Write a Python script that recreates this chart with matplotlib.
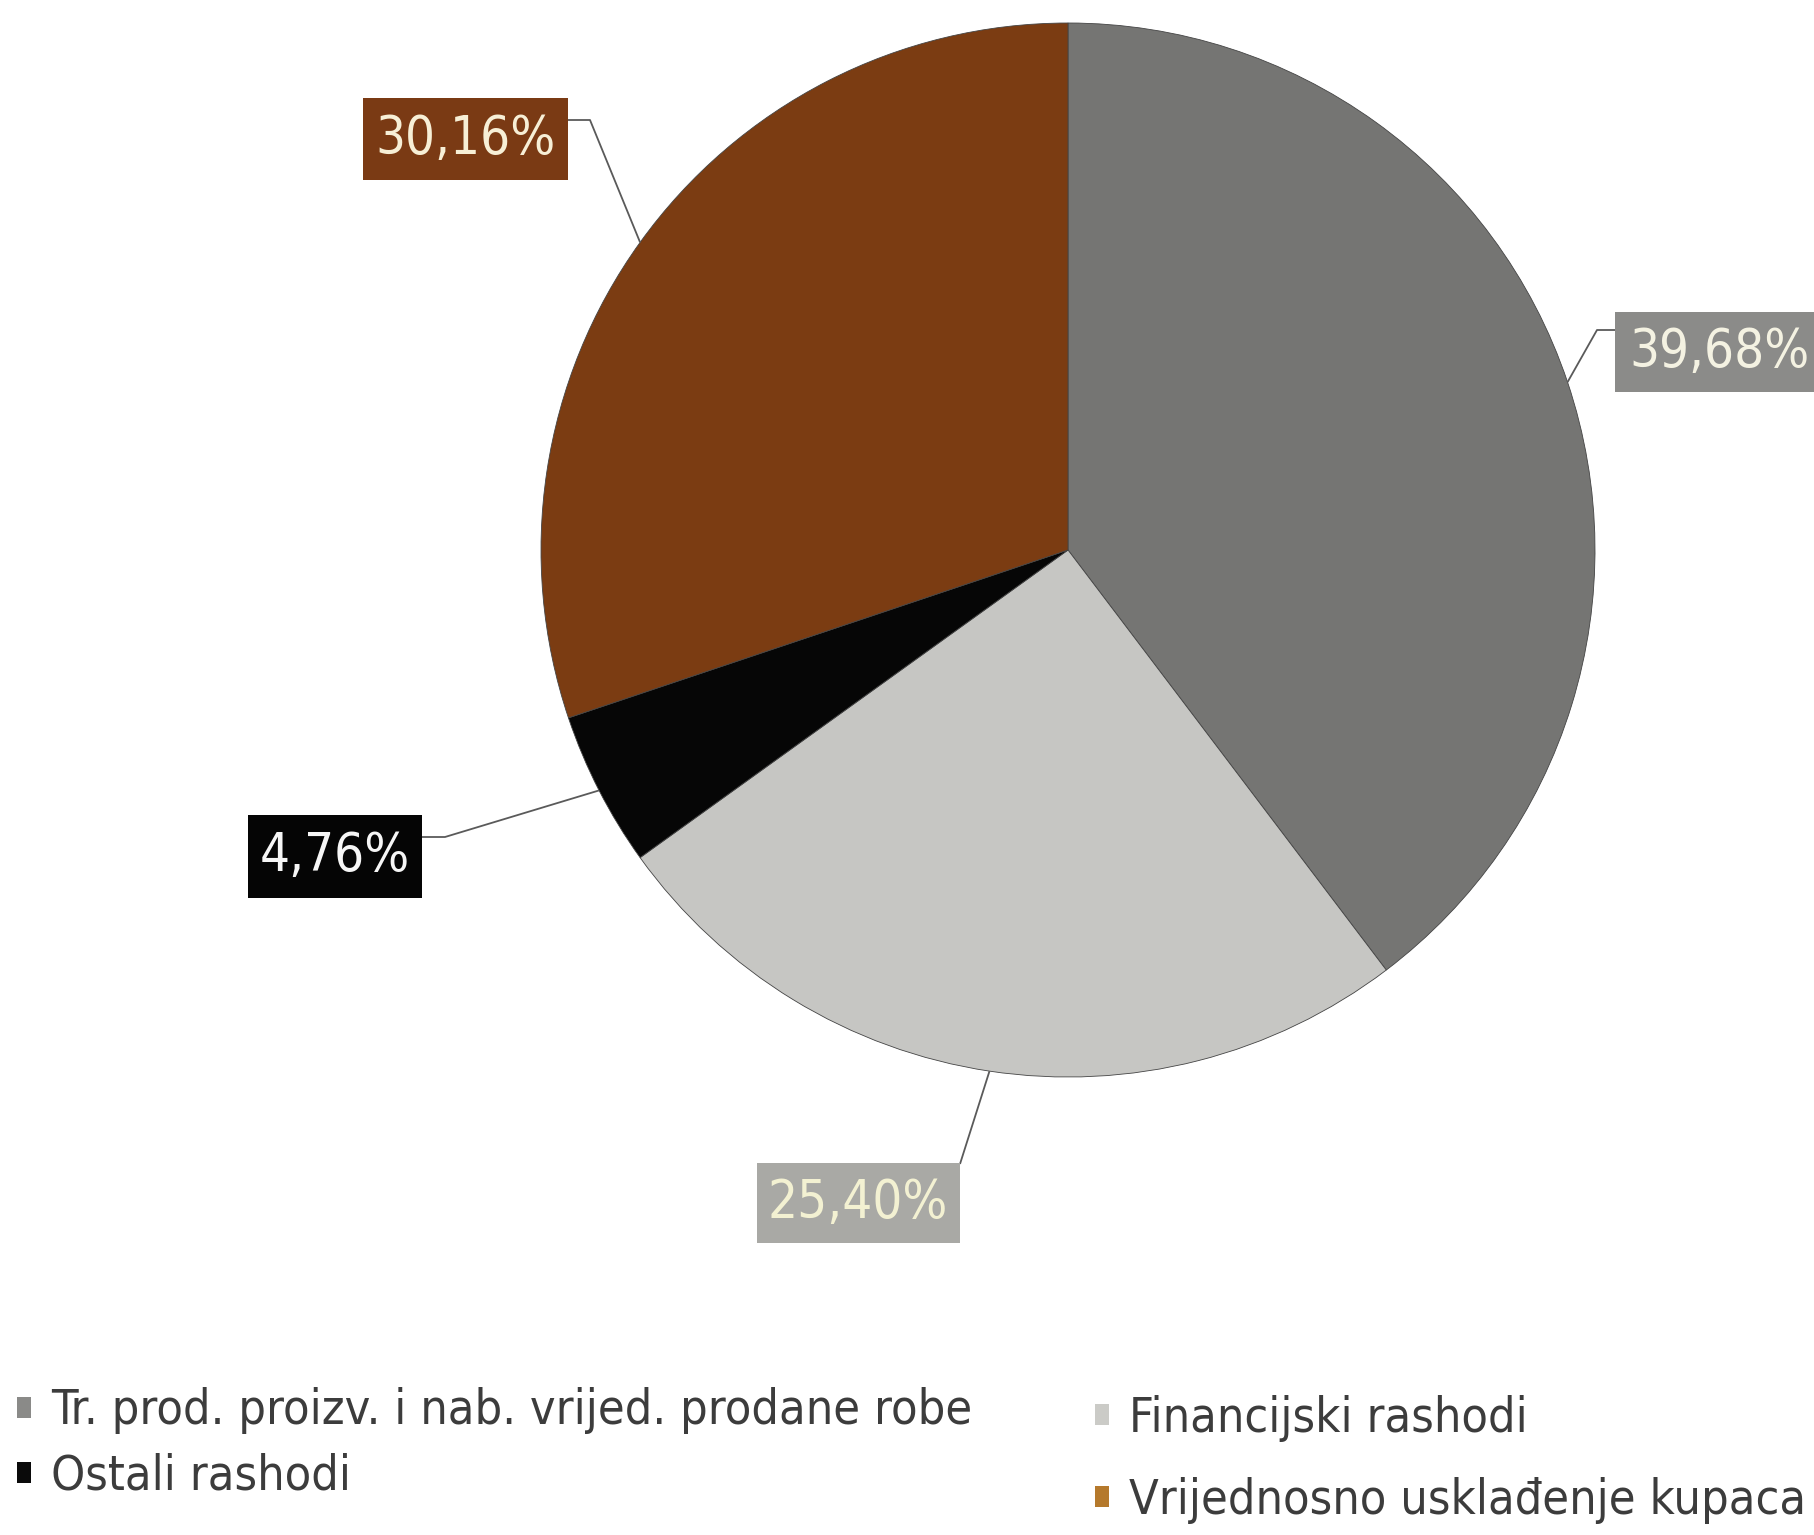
import matplotlib
matplotlib.use("Agg")
import matplotlib.pyplot as plt
from matplotlib import font_manager as fm
from matplotlib.patches import Rectangle
import numpy as np

# ---------------- data ----------------
categories = [
    "Tr. prod. proizv. i nab. vrijed. prodane robe",
    "Financijski rashodi",
    "Ostali rashodi",
    "Vrijednosno usklađenje kupaca",
]
values = [39.68, 25.40, 4.76, 30.16]
value_labels = ["39,68%", "25,40%", "4,76%", "30,16%"]

# ---------------- style ----------------
slice_colors = ["#757573", "#c6c6c3", "#060606", "#7b3c12"]
legend_colors = ["#8a8a88", "#cbcbc7", "#0a0a0a", "#b5792c"]
box_colors = ["#8b8b89", "#a9a9a5", "#050505", "#7a3a14"]
text_colors = ["#f4f2e2", "#f3f1d2", "#f6f6f6", "#f7efd6"]

W, H = 1815, 1535
def Y(y):
    return H - y

# prefer a narrow / condensed sans if one is installed
FONT_PROPS = None
for f in fm.fontManager.ttflist:
    nm = f.name.lower()
    st = str(f.stretch).lower()
    if f.style == "normal" and str(f.weight) in ("400", "normal", "regular") and \
            ("narrow" in nm or "condensed" in nm or st in ("condensed", "semi-condensed")):
        if "mono" in nm or "serif" in nm and "sans" not in nm:
            continue
        FONT_PROPS = fm.FontProperties(fname=f.fname)
        break
if FONT_PROPS is None:
    FONT_PROPS = fm.FontProperties(family=["Roboto", "DejaVu Sans"])
plt.rcParams["font.family"] = ["Roboto", "DejaVu Sans"]

fig = plt.figure(figsize=(W / 100, H / 100), dpi=100)
fig.patch.set_facecolor("white")
ax = fig.add_axes([0, 0, 1, 1])

cx, cy, R = 1068, Y(550), 527
wedges, _ = ax.pie(values, colors=slice_colors, startangle=90, counterclock=False,
                   center=(cx, cy), radius=R,
                   wedgeprops=dict(linewidth=0.6, edgecolor="#444444"))
ax.set_xlim(0, W)
ax.set_ylim(0, H)
ax.axis("off")

renderer = fig.canvas.get_renderer()

def text_width(txt, size):
    t = fig.text(0, 0, txt, fontsize=size, fontproperties=FONT_PROPS)
    t.set_fontsize(size)
    w = t.get_window_extent(renderer).width
    t.remove()
    return w

label_fs = 40 * 180 / text_width("30,16%", 40)
legend_fs = min(40 * 953 / text_width(categories[0], 40),
                40 * 675 / text_width(categories[3], 40),
                40 * 410 / text_width(categories[1], 40))

# label boxes: (x0, y0, x1, y1) in image pixels, attach point, elbow point
label_layout = [
    dict(box=(1615, 312, 1830, 392), tx=1720, attach=(1615, 330), elbow=(1597, 330)),
    dict(box=(757, 1163, 960, 1243), tx=858, attach=(960, 1164), elbow=None),
    dict(box=(248, 815, 422, 898), tx=335, attach=(422, 837), elbow=(445, 837)),
    dict(box=(363, 98, 568, 180), tx=466, attach=(568, 120), elbow=(590, 120)),
]

for i, (w, lay) in enumerate(zip(wedges, label_layout)):
    th = np.deg2rad((w.theta1 + w.theta2) / 2)
    ex, ey = cx + R * np.cos(th), cy + R * np.sin(th)
    pts = [(ex, ey)]
    if lay["elbow"] is not None:
        pts.append((lay["elbow"][0], Y(lay["elbow"][1])))
    pts.append((lay["attach"][0], Y(lay["attach"][1])))
    xs, ys = zip(*pts)
    ax.plot(xs, ys, color="#5a5a5a", lw=1.3, solid_capstyle="butt", zorder=3)
    x0, y0, x1, y1 = lay["box"]
    ax.add_patch(Rectangle((x0, Y(y1)), x1 - x0, y1 - y0, facecolor=box_colors[i],
                           edgecolor="none", zorder=4))
    t = ax.text(lay["tx"], Y((y0 + y1) / 2), value_labels[i], fontproperties=FONT_PROPS,
                color=text_colors[i], ha="center", va="center", zorder=5)
    t.set_fontsize(label_fs)

# legend entries: (marker-left x, row-center y) in image pixels
legend_pos = [(17, 1411), (1095, 1418), (17, 1476), (1095, 1500)]
lp = FONT_PROPS.copy()
lp.set_size(legend_fs)
for i, (w, (lx, ly)) in enumerate(zip(wedges, legend_pos)):
    h = Rectangle((0, 0), 1, 1, facecolor=legend_colors[i], edgecolor="none")
    fs_px = legend_fs * 100 / 72
    leg = fig.legend([h], [categories[i]], loc="center left",
                     bbox_to_anchor=(lx / W, Y(ly) / H), frameon=False,
                     prop=lp, handlelength=14 / fs_px, handleheight=14 / fs_px,
                     handletextpad=20 / fs_px, borderpad=0, borderaxespad=0)
    for t in leg.get_texts():
        t.set_color("#3c3c3c")

fig.savefig("out.png", dpi=100, facecolor="white")
